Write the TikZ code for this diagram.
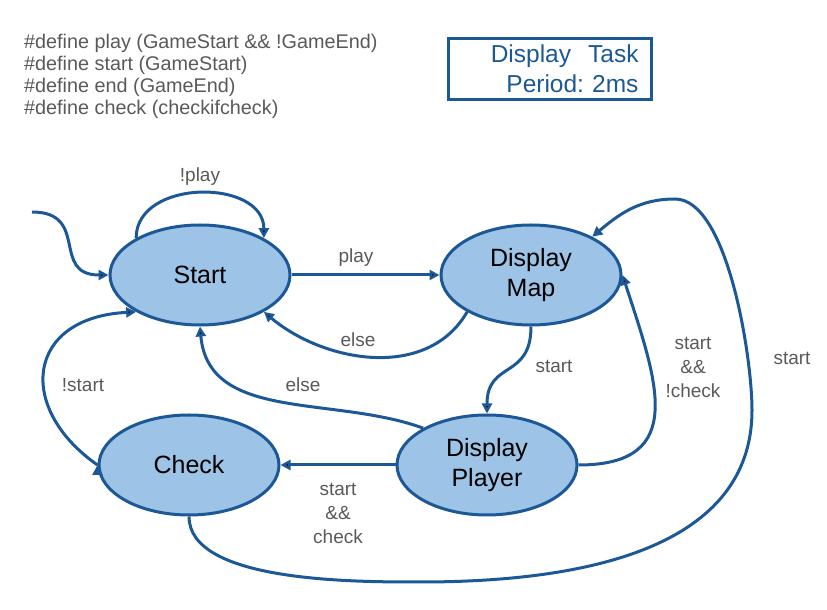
\documentclass[tikz,border=0pt]{standalone}
\usepackage{fontspec}
\setmainfont{Liberation Sans}
\frenchspacing
\usetikzlibrary{arrows.meta,shapes.geometric}
\definecolor{db}{RGB}{29,88,150}
\definecolor{lb}{RGB}{157,195,230}
\definecolor{tg}{RGB}{89,89,89}
\tikzset{
    vertex/.style = {ellipse,
                    fill=lb,
                    draw=db,
                    text=black,
                    line width=3pt,
                    align=center,
                    inner sep=0pt,
                    minimum width=180pt,
                    minimum height=100pt,
                    font=\fontsize{25}{30}\selectfont},
    guard/.style =  {text=tg,
                    align=center,
                    inner sep=0pt,
                    font=\fontsize{19}{24}\selectfont},
    box/.style =    {rectangle,
                    draw=db,
                    text=db,
                    line width=3pt,
                    align=right,
                    text width=177pt,
                    inner xsep=13pt,
                    inner ysep=0pt,
                    minimum height=61pt,
                    font=\fontsize{24.5}{30}\selectfont},
    trans/.style =  {draw=db,
                    line width=3pt,
                    ->},
    >={Triangle[length=10pt,width=10pt]}}

\begin{document}
\begin{tikzpicture}[x=1pt,y=1pt]
    \useasboundingbox (0,0) rectangle (827,610);
    \node[guard,anchor=north west,align=left,font=\fontsize{19.8}{22}\selectfont] (defs) at (24,576)
        {\#define play (GameStart \&\& !GameEnd)\\\#define start (GameStart)\\\#define end (GameEnd)\\\#define check (checkifcheck)};
    \node[box]      (task)      at (550,541)    {Display\hspace{17pt}Task\\Period: 2ms};

    \node[vertex]   (Start)     at (200,335)    {Start};
    \node[vertex]   (Map)       at (531,335)    {Display\\Map};
    \node[vertex]   (Player)    at (487,145)    {Display\\Player};
    \node[vertex]   (Check)     at (189,145)    {Check};
    \coordinate     (init)      at (32,398);

    \path [trans]   (init)       edge [out=0,in=180,looseness=1.5]       (Start.west)
                    (Start.150)  edge [out=90,in=90,looseness=1.2]       (Start.30)
                    (Start.east) edge []                                 (Map.west)
                    (Map.210)    edge [out=-120,in=-40]                  (Start.330)
                    (Map.south)  edge [out=-90,in=90,looseness=1.4]      (Player.north)
                    (Player.east) edge [out=0,in=-72,looseness=1.45]     (Map.east)
                    (Player.150) edge [out=160,in=-85]                   (Start.south)
                    (Player.west) edge []                                (Check.east)
                    (Check.west) edge [out=145,in=183,out distance=100,in distance=110] (Start.210);
    \draw [trans]   (Check.south) to[out=-90,in=180,looseness=0.7] (420,28)
                    to[out=0,in=-90] (752,200)
                    to[out=90,in=0,looseness=0.6] (675,411)
                    to[out=180,in=40] (Map.32);

    \node[guard]    (nplay)     at (200,433)    {!play};
    \node[guard]    (play)      at (356,352)    {play};
    \node[guard]    (elsea)     at (358,270)    {else};
    \node[guard]    (starta)    at (554,244)    {start};
    \node[guard]    (nocheck)   at (693,243)    {start\\\&\&\\!check};
    \node[guard]    (startb)    at (792,252)    {start};
    \node[guard]    (elseb)     at (303,225)    {else};
    \node[guard]    (check)     at (338,97)     {start\\\&\&\\check};
    \node[guard]    (nstart)    at (83,225)     {!start};
\end{tikzpicture}
\end{document}
